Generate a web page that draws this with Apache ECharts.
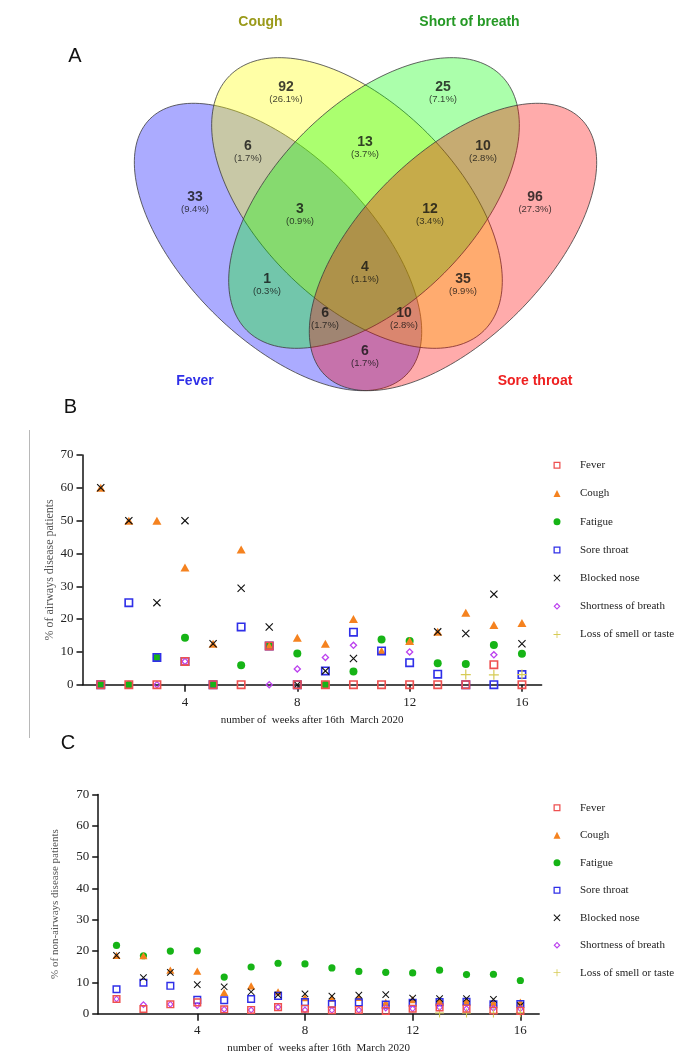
<!DOCTYPE html>
<html><head><meta charset="utf-8">
<script src="https://cdn.jsdelivr.net/npm/echarts@6/dist/echarts.min.js"></script>
<style>html,body{margin:0;padding:0;background:#fff}#c{width:674px;height:1055px}</style>
</head><body><div id="c"></div>
<script>
// ---------------- DATA ----------------
const weeks = [1,2,3,4,5,6,7,8,9,10,11,12,13,14,15,16];
const symptoms = ['Fever','Cough','Fatigue','Sore throat','Blocked nose','Shortness of breath','Loss of smell or taste'];
const xTickValues = [4,8,12,16];

// Panel B: % of airways disease patients
const airwaysFever   = [0,0,0,7.1,0,0,11.8,0,0,0,0,0,0,0,6.1,0];
const airwaysCough   = [60,50,50,35.7,12.5,41.2,11.8,14.3,12.5,20,10.3,13.3,16.1,21.9,18.2,18.8];
const airwaysFatigue = [0,0,8.3,14.3,0,5.9,11.8,9.5,0,4,13.8,13.3,6.5,6.3,12.1,9.4];
const airwaysSoreThroat = [0,25,8.3,7.1,0,17.6,11.8,0,4.2,16,10.3,6.7,3.2,0,0,3.1];
const airwaysBlockedNose = [60,50,25,50,12.5,29.4,17.6,0,4.2,8,null,null,16.1,15.6,27.6,12.5];
const airwaysBreath  = [null,null,0,7.1,null,null,0,4.8,8.3,12,null,10,null,null,9.1,null];
const airwaysSmell   = [null,null,null,null,null,null,null,null,null,null,null,null,null,3.1,3.0,3.1];

// Panel C: % of non-airways disease patients
const nonAirwaysFever   = [4.7,1.5,3.0,3.6,1.4,1.2,2.1,1.6,1.1,1.2,0.9,1.6,2.0,1.6,1.0,0.9];
const nonAirwaysCough   = [18.6,18.5,13.9,13.6,6.8,8.9,7.0,5.1,5.0,5.2,3.6,4.5,4.2,4.0,3.6,3.7];
const nonAirwaysFatigue = [21.8,18.5,20.0,20.1,11.7,14.9,16.1,15.9,14.6,13.5,13.2,13.0,13.9,12.5,12.6,10.6];
const nonAirwaysSoreThroat = [7.8,9.9,8.9,4.4,4.3,4.7,5.7,3.7,3.1,3.6,2.9,3.5,3.7,3.8,3.0,3.1];
const nonAirwaysBlockedNose = [18.6,11.5,13.2,9.3,8.6,7.0,6.0,6.3,5.6,5.9,6.1,5.0,4.8,4.8,4.6,2.6];
const nonAirwaysBreath  = [4.7,2.9,3.0,2.6,1.4,1.2,2.1,1.2,1.1,1.2,1.8,1.6,2.0,1.6,1.7,1.6];
const nonAirwaysSmell   = [null,null,null,null,null,null,null,null,null,null,null,null,0.2,0.2,0.2,0.3];

// Panel A: Venn diagram
const vennSets = ['Cough','Short of breath','Fever','Sore throat'];
const vennCounts   = [92,25,6,13,10,33,3,12,96,4,1,35,6,10,6];
const vennPercents = ['26.1%','7.1%','1.7%','3.7%','2.8%','9.4%','0.9%','3.4%','27.3%','1.1%','0.3%','9.9%','1.7%','2.8%','1.7%'];

// ---------------- LAYOUT / STYLE ----------------
// ellipse geometry in venn frame units: cx, cy, semi-major, semi-minor, angle(deg)
const VENN_ELLIPSES = [
  [0.3377,0.2839,0.336,0.171,135],  // Fever
  [0.4842,0.3655,0.334,0.184,135],  // Cough
  [0.5158,0.3655,0.334,0.184,45],   // Short of breath
  [0.6623,0.2839,0.336,0.171,45]    // Sore throat
];
const VENN_FILL = ['rgba(0,0,255,0.33)','rgba(255,255,0,0.35)','rgba(0,255,0,0.33)','rgba(255,0,0,0.33)'];
const VENN_LABEL_POS = [
  [0.3525,0.5807],[0.6438,0.5807],[0.2820,0.4712],[0.4991,0.4787],[0.7180,0.4712],
  [0.1837,0.3766],[0.3785,0.3544],[0.6197,0.3544],[0.8145,0.3766],[0.4991,0.2468],
  [0.3173,0.2245],[0.6809,0.2245],[0.4249,0.1614],[0.5714,0.1614],[0.4991,0.0909]
];

const RING_SQ = 'path://M0 0L10 0L10 10L0 10ZM1.8 1.8L1.8 8.2L8.2 8.2L8.2 1.8Z';
const RING_DIA = 'path://M5 0L10 5L5 10L0 5ZM5 2.3L2.3 5L5 7.7L7.7 5Z';
const CROSS_X = 'path://M0 1L1 0L10 9L9 10ZM9 0L10 1L1 10L0 9Z';
const PLUS = 'path://M4.4 0L5.6 0L5.6 10L4.4 10ZM0 4.4L10 4.4L10 5.6L0 5.6Z';

const STYLE = {
  'Fever': {symbol: RING_SQ, color:'#EE5050', size:9},
  'Cough': {symbol:'triangle', color:'#F5821F', size:[9,8]},
  'Fatigue': {symbol:'circle', color:'#16B416', size:8},
  'Sore throat': {symbol: RING_SQ, color:'#2F2FE8', size:9},
  'Blocked nose': {symbol: CROSS_X, color:'#111111', size:8},
  'Shortness of breath': {symbol: RING_DIA, color:'#BB40EE', size:8},
  'Loss of smell or taste': {symbol: PLUS, color:'#D6CB55', size:10}
};
const DRAW_ORDER = ['Fatigue','Cough','Sore throat','Blocked nose','Shortness of breath','Loss of smell or taste','Fever'];

const airways = {'Fever':airwaysFever,'Cough':airwaysCough,'Fatigue':airwaysFatigue,'Sore throat':airwaysSoreThroat,
  'Blocked nose':airwaysBlockedNose,'Shortness of breath':airwaysBreath,'Loss of smell or taste':airwaysSmell};
const nonAirways = {'Fever':nonAirwaysFever,'Cough':nonAirwaysCough,'Fatigue':nonAirwaysFatigue,'Sore throat':nonAirwaysSoreThroat,
  'Blocked nose':nonAirwaysBlockedNose,'Shortness of breath':nonAirwaysBreath,'Loss of smell or taste':nonAirwaysSmell};

const SERIF = 'Liberation Serif';
const SANS = 'Liberation Sans';

function scatterSeries(table, axisIdx, scale){
  return DRAW_ORDER.map(name => {
    const st = STYLE[name];
    const size = Array.isArray(st.size) ? st.size.map(s=>s*scale) : st.size*scale;
    return {
      type:'scatter', name, xAxisIndex:axisIdx, yAxisIndex:axisIdx,
      symbol: st.symbol, symbolSize: size, silent:true,
      itemStyle:{color: st.color, opacity:1},
      data: weeks.map((w,i)=> table[name][i]==null ? null : [w, table[name][i]]).filter(d=>d)
    };
  });
}

function valueXAxis(gridIndex, min, max, labelMargin, nameGap){
  return {
    gridIndex, type:'value', min, max,
    axisLine:{show:true, onZero:false, lineStyle:{color:'#111', width:1.5}},
    axisTick:{show:true, customValues:xTickValues, length:7, lineStyle:{color:'#111', width:1.5}},
    axisLabel:{show:true, customValues:xTickValues, margin:labelMargin, fontFamily:SERIF, fontSize:13, color:'#222'},
    splitLine:{show:false},
    name:'number of  weeks after 16th  March 2020', nameLocation:'middle', nameGap, nameMoveOverlap:false,
    nameTextStyle:{fontFamily:SERIF, fontSize:11, color:'#222'}
  };
}
function valueYAxis(gridIndex, name, nameGap, nameSize){
  return {
    gridIndex, type:'value', min:0, max:70, interval:10,
    axisLine:{show:true, onZero:false, lineStyle:{color:'#111', width:1.5}},
    axisTick:{show:true, length:6, lineStyle:{color:'#111', width:1.5}},
    axisLabel:{show:true, margin:9, fontFamily:SERIF, fontSize:13, color:'#222'},
    splitLine:{show:false},
    name, nameLocation:'middle', nameGap, nameMoveOverlap:false,
    nameTextStyle:{fontFamily:SERIF, fontSize:nameSize, color:'#555'}
  };
}
function legendAt(top, gap){
  return {
    data: symptoms, orient:'vertical', left:553.5, top, padding:0,
    itemWidth:7, itemHeight:7, itemGap:gap, selectedMode:false,
    textStyle:{fontFamily:SERIF, fontSize:11, color:'#222', lineHeight:7, padding:[0,0,0,14.5]}
  };
}

const chart = echarts.init(document.getElementById('c'), null, {renderer:'canvas', width:674, height:1055});

const option = {
  animation:false,
  backgroundColor:'#fff',
  grid:[
    {left:96, top:0, width:539, height:400, outerBoundsMode:'none'},
    {left:82.5, top:455, width:459.1, height:229.7, outerBoundsMode:'none'},
    {left:98.2, top:794.4, width:441, height:219.3, outerBoundsMode:'none'}
  ],
  xAxis:[
    {gridIndex:0, type:'value', min:0, max:1, show:false},
    valueXAxis(1, 0.35, 16.7, 11, 30),
    valueXAxis(2, 0.32, 16.7, 10, 28.5)
  ],
  yAxis:[
    {gridIndex:0, type:'value', min:0, max:400/539, show:false},
    valueYAxis(1, '% of airways disease patients', 26.5, 12),
    valueYAxis(2, '% of non-airways disease patients', 37.5, 11)
  ],
  legend:[legendAt(459.8, 17.2), legendAt(802.2, 16.5)],
  series:[
    {
      type:'custom', xAxisIndex:0, yAxisIndex:0, silent:true, clip:false,
      data: VENN_ELLIPSES,
      renderItem(params, api){
        const cx=api.value(0), cy=api.value(1), a=api.value(2), b=api.value(3), ang=api.value(4)*Math.PI/180;
        const pts=[];
        for(let i=0;i<180;i++){
          const t=i/180*2*Math.PI;
          const x=cx + a*Math.cos(t)*Math.cos(ang) - b*Math.sin(t)*Math.sin(ang);
          const y=cy + a*Math.cos(t)*Math.sin(ang) + b*Math.sin(t)*Math.cos(ang);
          pts.push(api.coord([x,y]));
        }
        return {type:'polygon', shape:{points:pts}, style:{fill:VENN_FILL[params.dataIndex], stroke:'#3c3c3c', lineWidth:0.8}};
      }
    },
    {
      type:'scatter', xAxisIndex:0, yAxisIndex:0, silent:true, symbolSize:1,
      itemStyle:{color:'rgba(0,0,0,0)'},
      data: VENN_LABEL_POS.map(p=>[p[0],p[1]]),
      label:{
        show:true, position:'inside', offset:[0,5],
        formatter: p => '{c|' + vennCounts[p.dataIndex] + '}\n{p|(' + vennPercents[p.dataIndex] + ')}',
        rich:{
          c:{fontFamily:SANS, fontSize:14, fontWeight:'bold', color:'#111', lineHeight:14, align:'center'},
          p:{fontFamily:SANS, fontSize:9.5, color:'#111', lineHeight:10, align:'center'}
        }
      }
    },
    ...scatterSeries(airways, 1, 1),
    ...scatterSeries(nonAirways, 2, 0.9)
  ],
  graphic:{elements:[
    {type:'text', x:75, y:56, style:{text:'A', fontFamily:SANS, fontSize:20, fill:'#111', align:'center', verticalAlign:'middle'}},
    {type:'text', x:70.5, y:407, style:{text:'B', fontFamily:SANS, fontSize:20, fill:'#111', align:'center', verticalAlign:'middle'}},
    {type:'text', x:68, y:743, style:{text:'C', fontFamily:SANS, fontSize:20, fill:'#111', align:'center', verticalAlign:'middle'}},
    {type:'text', x:260.5, y:22, style:{text:vennSets[0], fontFamily:SANS, fontSize:14, fontWeight:'bold', fill:'#9A9A1A', align:'center', verticalAlign:'middle'}},
    {type:'text', x:469.5, y:22, style:{text:vennSets[1], fontFamily:SANS, fontSize:14, fontWeight:'bold', fill:'#259925', align:'center', verticalAlign:'middle'}},
    {type:'text', x:195, y:381, style:{text:vennSets[2], fontFamily:SANS, fontSize:14, fontWeight:'bold', fill:'#3030E8', align:'center', verticalAlign:'middle'}},
    {type:'text', x:535, y:381, style:{text:vennSets[3], fontFamily:SANS, fontSize:14, fontWeight:'bold', fill:'#EE2020', align:'center', verticalAlign:'middle'}},
    {type:'line', shape:{x1:29.5, y1:430, x2:29.5, y2:738}, style:{stroke:'#b8b8b8', lineWidth:1}}
  ]}
};
chart.setOption(option);
</script>
</body></html>
